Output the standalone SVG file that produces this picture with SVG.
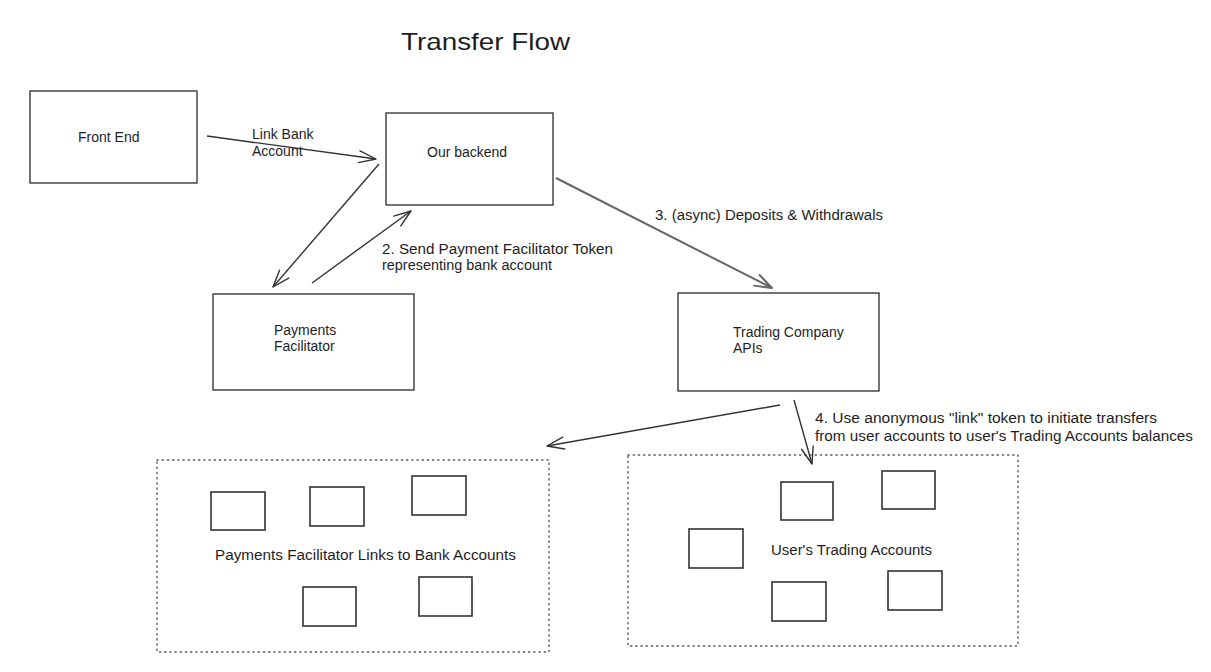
<svg xmlns="http://www.w3.org/2000/svg" width="1211" height="672" viewBox="0 0 1211 672">
  <style>
    .bg { fill: #ffffff; }
    .box { fill: none; stroke: #2a2a2a; stroke-width: 1.3; }
    .small { fill: none; stroke: #333333; stroke-width: 1.6; }
    .dotted { fill: none; stroke: #555555; stroke-width: 1.4; stroke-dasharray: 1.2 4; stroke-linecap: round; }
    .conn { fill: none; stroke: #333333; stroke-width: 1.4; }
    .conn-thick { fill: none; stroke: #666666; stroke-width: 2; }
    text { font-family: "Liberation Sans", Arial, sans-serif; fill: #1e1e1e; font-size: 14px; }
    .title { font-size: 24px; }
  </style>
  <defs>
    <marker id="arr" viewBox="0 0 20 20" refX="18" refY="10" markerWidth="20" markerHeight="20" orient="auto" markerUnits="userSpaceOnUse">
      <path d="M1,4 L18,10 L1,16" fill="none" stroke="#333333" stroke-width="1.4" stroke-linecap="round" stroke-linejoin="round"/>
    </marker>
    <marker id="arr-thick" viewBox="0 0 20 20" refX="18" refY="10" markerWidth="20" markerHeight="20" orient="auto" markerUnits="userSpaceOnUse">
      <path d="M1,4 L18,10 L1,16" fill="none" stroke="#666666" stroke-width="2" stroke-linecap="round" stroke-linejoin="round"/>
    </marker>
  </defs>
  <rect class="bg" x="0" y="0" width="1211" height="672"/>

  <text id="title" class="title" x="401" y="50" textLength="169" lengthAdjust="spacingAndGlyphs">Transfer Flow</text>

  <g id="front-end">
    <rect class="box" x="30" y="91" width="167" height="92"/>
    <text x="78" y="142">Front End</text>
  </g>

  <g id="our-backend">
    <rect class="box" x="386" y="113" width="167" height="92"/>
    <text x="427" y="157">Our backend</text>
  </g>

  <g id="payments-facilitator">
    <rect class="box" x="213" y="294" width="201" height="96"/>
    <text x="274" y="335">Payments</text>
    <text x="274" y="351">Facilitator</text>
  </g>

  <g id="trading-company-apis">
    <rect class="box" x="678" y="293" width="201" height="98"/>
    <text x="733" y="337">Trading Company</text>
    <text x="733" y="353">APIs</text>
  </g>

  <g id="bank-links">
    <rect class="dotted" x="157" y="460" width="392" height="192"/>
    <rect class="small" x="211" y="492" width="54" height="38"/>
    <rect class="small" x="310" y="487" width="54" height="39"/>
    <rect class="small" x="412" y="476" width="54" height="39"/>
    <rect class="small" x="303" y="587" width="53" height="39"/>
    <rect class="small" x="419" y="577" width="53" height="39"/>
    <text x="215" y="560" textLength="301" lengthAdjust="spacingAndGlyphs">Payments Facilitator Links to Bank Accounts</text>
  </g>

  <g id="trading-accounts">
    <rect class="dotted" x="628" y="455" width="390" height="191"/>
    <rect class="small" x="781" y="482" width="52" height="38"/>
    <rect class="small" x="882" y="471" width="53" height="38"/>
    <rect class="small" x="689" y="529" width="54" height="39"/>
    <rect class="small" x="772" y="582" width="54" height="39"/>
    <rect class="small" x="888" y="571" width="54" height="39"/>
    <text x="771" y="555" textLength="161" lengthAdjust="spacingAndGlyphs">User's Trading Accounts</text>
  </g>

  <g id="connectors">
    <line class="conn" x1="207" y1="136" x2="376" y2="159" marker-end="url(#arr)"/>
    <text x="252" y="139">Link Bank</text>
    <text x="252" y="156">Account</text>

    <line class="conn" x1="379" y1="164" x2="273" y2="287" marker-end="url(#arr)"/>
    <line class="conn" x1="312" y1="283" x2="411" y2="211" marker-end="url(#arr)"/>
    <text x="382" y="254" textLength="231" lengthAdjust="spacingAndGlyphs">2. Send Payment Facilitator Token</text>
    <text x="382" y="270" textLength="170" lengthAdjust="spacingAndGlyphs">representing bank account</text>

    <line class="conn-thick" x1="556" y1="178" x2="772" y2="288" marker-end="url(#arr-thick)"/>
    <text x="655" y="220" textLength="228" lengthAdjust="spacingAndGlyphs">3. (async) Deposits &amp; Withdrawals</text>

    <line class="conn" x1="780" y1="405" x2="547" y2="446" marker-end="url(#arr)"/>
    <line class="conn" x1="794" y1="400" x2="812" y2="464" marker-end="url(#arr)"/>
    <text x="815" y="423" textLength="342" lengthAdjust="spacingAndGlyphs">4. Use anonymous "link" token to initiate transfers</text>
    <text x="815" y="441" textLength="378" lengthAdjust="spacingAndGlyphs">from user accounts to user's Trading Accounts balances</text>
  </g>
</svg>
